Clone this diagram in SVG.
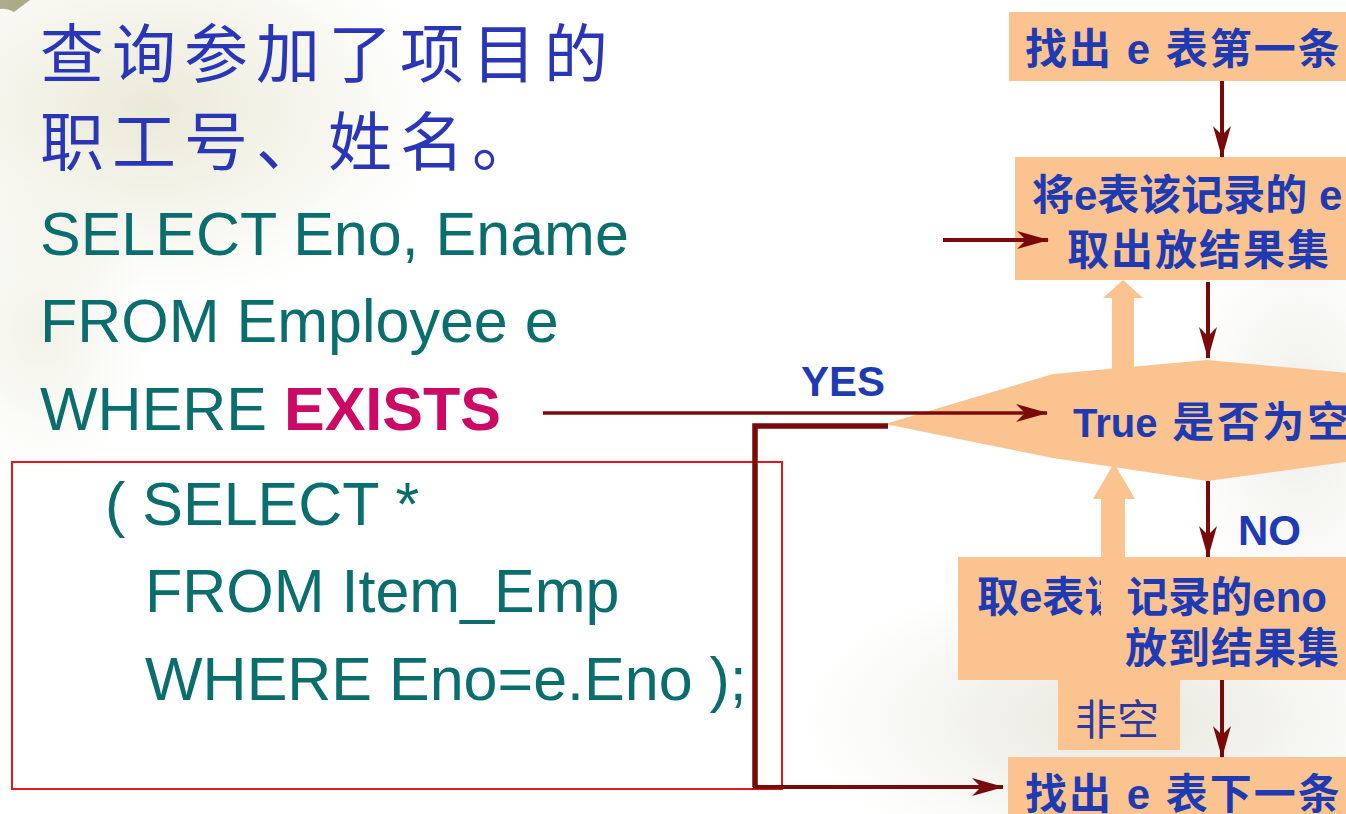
<svg xmlns="http://www.w3.org/2000/svg" width="1346" height="814" viewBox="0 0 1346 814">
<defs>
<radialGradient id="blot" cx="50%" cy="50%" r="50%">
<stop offset="0" stop-color="#DCDBBE" stop-opacity="0.6"/>
<stop offset="1" stop-color="#DCDBBE" stop-opacity="0"/>
</radialGradient>
<radialGradient id="blot2" cx="50%" cy="50%" r="50%">
<stop offset="0" stop-color="#DEDDD0" stop-opacity="0.7"/>
<stop offset="1" stop-color="#DEDDD0" stop-opacity="0"/>
</radialGradient>
<marker id="ah" viewBox="0 0 32 18" refX="31" refY="9" markerWidth="32" markerHeight="18" markerUnits="userSpaceOnUse" orient="auto">
<path d="M0,0 L32,9 L0,18 L9,9 z" fill="#7A0A0A"/>
</marker>
<style>
.sql{font-family:"Liberation Sans",Arial,sans-serif;font-size:61px;fill:#0B6E6E}
.title{font-family:"Noto Sans CJK SC","Liberation Sans",sans-serif;font-size:64px;fill:#2A36B8;letter-spacing:8px}
.lbl{font-family:"Liberation Sans","Noto Sans CJK SC",sans-serif;font-size:42px;font-weight:bold;fill:#1E3BB3}
.box{fill:#FAC390}
.conn{stroke:#7A0A0A;fill:none}
</style>
</defs>

<g id="background">
<rect width="1346" height="814" fill="#FFFFFF"/>
<ellipse cx="150" cy="110" rx="300" ry="190" fill="url(#blot)"/>
<ellipse cx="40" cy="330" rx="110" ry="150" fill="url(#blot)" opacity="0.6"/>
<ellipse cx="1120" cy="720" rx="320" ry="150" fill="url(#blot2)"/>
<ellipse cx="1300" cy="420" rx="120" ry="200" fill="url(#blot2)" opacity="0.7"/>
<path d="M0,0 L30,0 Q22,6 14,12 Q6,8 0,9 z" fill="#8A8A5A" opacity="0.7"/>
</g>

<g id="title">
<text class="title" x="40" y="77">查询参加了项目的</text>
<text class="title" x="40" y="165">职工号、姓名。</text>
</g>

<g id="sql-main">
<text class="sql" x="40" y="255">SELECT Eno, Ename</text>
<text class="sql" x="40" y="342">FROM Employee e</text>
<text class="sql" x="40" y="430">WHERE <tspan font-weight="bold" fill="#CC0A66">EXISTS</tspan></text>
</g>

<g id="subquery">
<rect x="12" y="462" width="770" height="327" fill="none" stroke="#E8141E" stroke-width="2"/>
<text class="sql" x="105" y="525">( SELECT *</text>
<text class="sql" x="145" y="612">FROM Item_Emp</text>
<text class="sql" x="145" y="700">WHERE Eno=e.Eno );</text>
</g>

<g id="node-first">
<rect class="box" x="1009" y="12" width="340" height="69"/>
<text class="lbl" x="1025" y="64" letter-spacing="2">找出 e 表第一条</text>
</g>

<g id="node-output">
<rect class="box" x="1015" y="157" width="334" height="123"/>
<text class="lbl" x="1032" y="210">将e表该记录的 e</text>
<text class="lbl" x="1067" y="265" letter-spacing="2">取出放结果集</text>
</g>

<g id="node-decision">
<polygon class="box" points="885,424 1053,374 1207,360 1361,374 1529,424 1361,460 1207,481 1053,458"/>
<text class="lbl" x="1073" y="437"><tspan font-size="40">True</tspan><tspan letter-spacing="3"> 是否为空</tspan></text>
</g>

<g id="node-take">
<rect class="box" x="958" y="557" width="391" height="123"/>
<text class="lbl" x="977" y="612">取e表该记录的eno</text>
<text class="lbl" x="1125" y="663" letter-spacing="1">放到结果集</text>
</g>

<g id="node-nonempty">
<rect class="box" x="1058" y="678" width="122" height="72"/>
<text x="1075" y="735" font-family="'Noto Sans CJK SC','Liberation Sans',sans-serif" font-size="42" fill="#2A3A9E">非空</text>
</g>

<g id="node-next">
<rect class="box" x="1008" y="757" width="341" height="60"/>
<text class="lbl" x="1025" y="809" letter-spacing="2">找出 e 表下一条</text>
</g>

<g id="connectors">
<rect class="box" x="1112" y="296" width="22" height="80"/>
<polygon class="box" points="1103,298 1143,298 1123,280"/>
<rect class="box" x="1101" y="496" width="24" height="186"/>
<polygon class="box" points="1093,499 1135,499 1114,463"/>
<line class="conn" x1="1222" y1="81" x2="1222" y2="157" stroke-width="4" marker-end="url(#ah)"/>
<line class="conn" x1="943" y1="240" x2="1048" y2="240" stroke-width="4" marker-end="url(#ah)"/>
<line class="conn" x1="1208" y1="282" x2="1208" y2="358" stroke-width="4" marker-end="url(#ah)"/>
<line class="conn" x1="543" y1="413" x2="1047" y2="413" stroke-width="3.5" marker-end="url(#ah)"/>
<line class="conn" x1="1208" y1="481" x2="1208" y2="557" stroke-width="4" marker-end="url(#ah)"/>
<line class="conn" x1="1222" y1="680" x2="1222" y2="757" stroke-width="4" marker-end="url(#ah)"/>
<path class="conn" d="M888,426 H755 V787" stroke-width="5.5"/>
<line class="conn" x1="753" y1="787" x2="1003" y2="787" stroke-width="4" marker-end="url(#ah)"/>
<text class="lbl" x="801" y="396" font-size="41">YES</text>
<text class="lbl" x="1238" y="545" font-size="41">NO</text>
</g>
</svg>
